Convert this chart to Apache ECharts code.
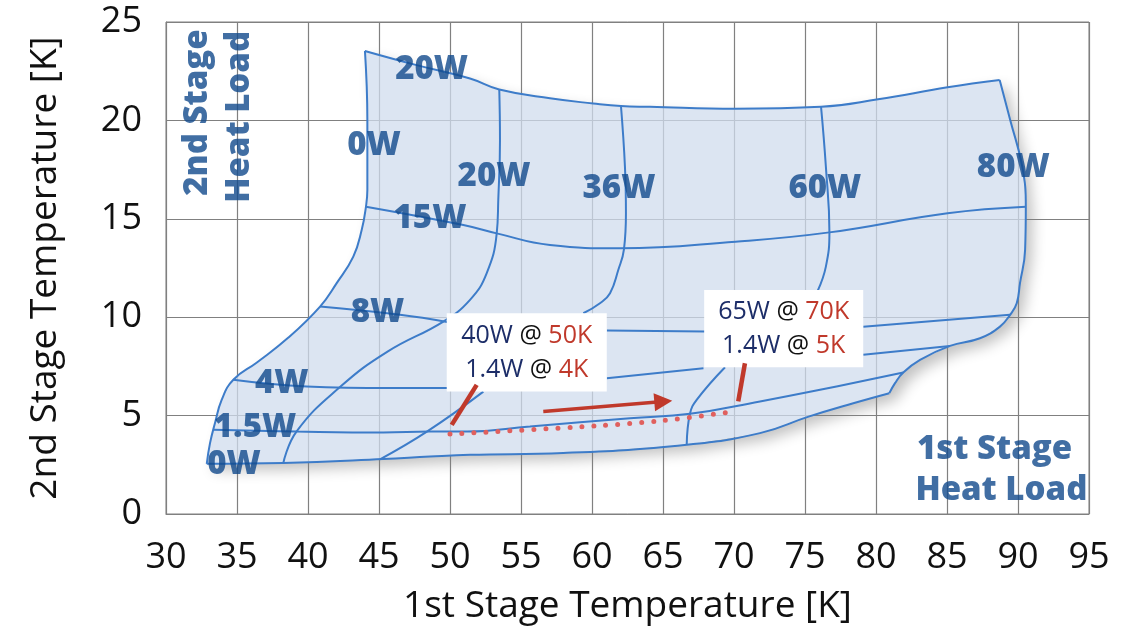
<!DOCTYPE html>
<html>
<head>
<meta charset="utf-8">
<script src="https://cdn.jsdelivr.net/npm/echarts@6/dist/echarts.min.js"></script>
<style>
    html, body {margin: 0; padding: 0; background: #fff;}
</style>
</head>
<body>
<div id="main" style="width:1145px;height:636px;"></div>
<script type="text/javascript">
    // axis ticks
    var xTicks = [30, 35, 40, 45, 50, 55, 60, 65, 70, 75, 80, 85, 90, 95];
    var yTicks = [0, 5, 10, 15, 20, 25];

    // lines of constant 1st stage heat load  [1st stage K, 2nd stage K]
    // null = part hidden behind an annotation box
    var stage1_0W = [[32.87, 2.55], [33.1, 3.6], [33.45, 4.62], [33.92, 5.8], [34.74, 6.82], [36.4, 7.7],
        [38.6, 8.95], [40.85, 10.54], [42.02, 11.73], [43.19, 13.08], [43.78, 14.43],
        [44.08, 15.61], [44.18, 16.46], [44.18, 20.02], [44.01, 23.53]];
    var stage1_20W = [[53.47, 21.57], [53.52, 19.0], [53.4, 15.96], [53.29, 14.26], [52.58, 12.23], [51.41, 10.88],
        [49.53, 9.78], [45.6, 8.25], [42.25, 6.45], [39.2, 4.2], [38.26, 2.59]];
    var stage1_36W = [[62.04, 20.73], [62.32, 17.65], [62.39, 15.28], [62.25, 13.45], [61.85, 12.4], [61.27, 11.22],
        [60.56, 10.71], [59.39, 10.2], null, [52.35, 6.22], [48.4, 4.2], [45.07, 2.78]];
    var stage1_60W = [[76.13, 20.69], [76.47, 17.65], [76.72, 14.31], [76.47, 12.57], [75.9, 11.35], null,
        [69.37, 7.46], [67.37, 5.8], [66.9, 5.09], [66.67, 3.52]];
    var stage1_80W = [[88.71, 22.05], [89.45, 20.02], [90.3, 17.65], [90.55, 15.61], [90.5, 13.42], [90.14, 11.73],
        [89.91, 10.71], [89.44, 10.12], [88.73, 9.52], [87.32, 8.93], [85.21, 8.54], [83.1, 7.83], [81.92, 7.19],
        [81.34, 6.65], [80.94, 6.14]];

    // lines of constant 2nd stage heat load
    var stage2_0W = [[32.87, 2.55], [38.26, 2.59], [45.3, 2.79], [48.59, 2.92], [51.41, 3.01], [57.98, 3.1],
        [66.67, 3.52], [71.83, 4.11], [75.25, 4.95], [78.4, 5.63], [80.94, 6.14]];
    var stage2_1p5W = [[33.33, 4.28], [39.2, 4.19], [45.3, 4.14], [48.59, 4.19], [51.2, 4.19], [55.63, 4.45],
        [62.68, 4.87], [66.9, 5.09], [71.83, 5.72], [76.06, 6.31], [81.92, 7.19]];
    var stage2_4W = [[34.74, 6.82], [39.91, 6.48], [45.77, 6.4], [49.9, 6.4], null, [61.04, 6.9], [67.85, 7.41], null,
        [79.1, 8.09], [85.21, 8.54]];
    var stage2_8W = [[40.85, 10.54], [46.48, 10.12], [49.8, 9.76], null, [61.04, 9.32], [67.95, 9.27], null,
        [79.1, 9.52], [89.44, 10.12]];
    var stage2_15W = [[44.08, 15.61], [50.94, 14.68], [53.29, 14.26], [57.04, 13.67], [62.0, 13.5], [70.11, 13.84],
        [76.72, 14.31], [85.04, 15.28], [90.55, 15.61]];
    var stage2_20W = [[44.01, 23.53], [47.65, 22.81], [51.41, 22.13], [53.47, 21.57], [57.04, 21.12], [60.09, 20.86],
        [62.04, 20.73], [64.08, 20.69], [70.11, 20.59], [76.13, 20.69], [80.15, 21.07], [85.04, 21.68], [88.71, 22.05]];

    // operating path and annotations
    var pathDots = [[50.0, 4.06], [60.33, 4.48], [65.02, 4.75], [70.07, 5.21]];
    var arrowFrom = [56.57, 5.21], arrowTo = [65.02, 5.72];
    var pointer1 = [[50.12, 4.53], [51.88, 6.56]];
    var pointer2 = [[70.3, 5.72], [70.77, 7.66]];
    var box1 = [49.77, 10.2, 61.04, 6.22], box1Text = ['40W', '50K', '1.4W', '4K'];
    var box2 = [67.9, 11.38, 79.1, 7.46], box2Text = ['65W', '70K', '1.4W', '5K'];

    // heat load labels [text, x, y, rotate]
    var labelSpots = [
        ['20W', 48.71, 22.6, 0], ['0W', 44.65, 18.74, 0], ['20W', 53.1, 17.17, 0], ['36W', 61.9, 16.56, 0],
        ['60W', 76.4, 16.51, 0], ['80W', 89.67, 17.6, 0], ['15W', 48.59, 14.99, 0], ['8W', 44.89, 10.24, 0],
        ['4W', 38.15, 6.61, 0], ['1.5W', 36.27, 4.38, 0], ['0W', 34.79, 2.51, 0],
        ['2nd Stage', 32.22, 20.4, 90], ['Heat Load', 35.16, 20.18, 90],
        ['1st Stage', 88.35, 3.26, 0], ['Heat Load', 88.83, 1.19, 0]
    ];

    var outline = stage1_0W.concat(stage2_20W.slice(1), stage1_80W.slice(1), stage2_0W.slice(0, -1).reverse());

    var lineBlue = '#3d7cc9';
    var red = '#c0392b';
    var font = 'Open Sans';

    // split a line at null entries so hidden parts are not drawn
    function pieces(d) {
        var out = [[]];
        d.forEach(function (p) {
            if (p === null) out.push([]);
            else out[out.length - 1].push(p);
        });
        return out;
    }

    function curve(d) {
        return {
            type: 'line', data: d, smooth: 0.45, showSymbol: false, symbol: 'none', z: 3,
            lineStyle: {color: lineBlue, width: 2}
        };
    }

    function boxItem(params, api, b, t) {
        var p0 = api.coord([b[0], b[1]]), p1 = api.coord([b[2], b[3]]);
        var st = function (c) { return {fill: c, fontSize: 25, fontFamily: font, lineHeight: 34}; };
        return {
            type: 'group',
            children: [{
                type: 'rect',
                shape: {x: p0[0], y: p0[1], width: p1[0] - p0[0], height: p1[1] - p0[1]},
                style: {fill: '#fff'}
            }, {
                type: 'text',
                x: (p0[0] + p1[0]) / 2, y: (p0[1] + p1[1]) / 2,
                style: {
                    text: '{n|' + t[0] + '} {a|@} {r|' + t[1] + '}\n{n|' + t[2] + '} {a|@} {r|' + t[3] + '}',
                    align: 'center', verticalAlign: 'middle',
                    font: '25px "' + font + '"',
                    rich: {n: st('#1c2d68'), a: st('#111'), r: st(red)}
                }
            }]
        };
    }

    var myChart = echarts.init(document.getElementById('main'));

    var series = [{
        // white base with drop shadow, sits under the grid lines
        type: 'custom', z: -1, data: [[60, 10]], silent: true,
        renderItem: function (params, api) {
            return {
                type: 'polygon',
                shape: {points: outline.map(function (p) { return api.coord(p); })},
                style: {fill: '#fff', shadowBlur: 14, shadowOffsetX: 7, shadowOffsetY: 7, shadowColor: 'rgba(0,0,0,0.24)'}
            };
        }
    }, {
        type: 'custom', z: 2, data: [[60, 10]], silent: true,
        renderItem: function (params, api) {
            return {
                type: 'polygon',
                shape: {points: outline.map(function (p) { return api.coord(p); })},
                style: {fill: 'rgba(208,220,238,0.75)'}
            };
        }
    }];

    [stage1_0W, stage1_20W, stage1_36W, stage1_60W, stage1_80W,
        stage2_0W, stage2_1p5W, stage2_4W, stage2_8W, stage2_15W, stage2_20W].forEach(function (d) {
        pieces(d).forEach(function (seg) { series.push(curve(seg)); });
    });

    series.push({
        type: 'line', data: pathDots, smooth: 0.3, symbol: 'none', z: 4,
        lineStyle: {color: '#e0605e', width: 5, type: [0, 12], cap: 'round'}
    });

    series.push({
        type: 'custom', z: 5, data: [[60, 10]], silent: true,
        renderItem: function (params, api) {
            return {
                type: 'group',
                children: [boxItem(params, api, box1, box1Text), boxItem(params, api, box2, box2Text)]
            };
        }
    });

    [pointer1, pointer2].forEach(function (d) {
        series.push({type: 'line', data: d, symbol: 'none', z: 6, lineStyle: {color: red, width: 4.5}});
    });

    series.push({
        type: 'line', data: [], z: 6,
        markLine: {
            silent: true, symbol: ['none', 'triangle'], symbolSize: [18, 18], label: {show: false},
            lineStyle: {color: red, width: 3.5, type: 'solid'},
            data: [[{coord: arrowFrom}, {coord: arrowTo}]]
        }
    });

    series.push({
        type: 'scatter', z: 7, symbolSize: 2, silent: true,
        itemStyle: {color: 'rgba(0,0,0,0)'},
        data: labelSpots.map(function (s) {
            return {value: [s[1], s[2]], name: s[0], label: {rotate: s[3]}};
        }),
        label: {
            show: true, position: 'inside', formatter: '{b}',
            color: '#124a8c', fontFamily: font, fontWeight: 800, fontSize: 33
        }
    });

    myChart.setOption({
        animation: false,
        grid: {left: 166, right: 56, top: 22, bottom: 122, show: true, borderColor: '#808080', borderWidth: 1},
        xAxis: {
            type: 'value', min: 30, max: 95, interval: 5,
            name: '1st Stage Temperature [K]', nameLocation: 'middle', nameGap: 74,
            nameTextStyle: {fontFamily: font, fontSize: 37, color: '#111'},
            axisLine: {show: true, lineStyle: {color: '#808080'}},
            axisTick: {show: false},
            axisLabel: {fontFamily: font, fontSize: 36, color: '#111', margin: 26,
                formatter: function (v) { return xTicks.indexOf(v) >= 0 ? String(v) : ''; }},
            splitLine: {lineStyle: {color: '#808080', width: 1.2}}
        },
        yAxis: {
            type: 'value', min: 0, max: 25, interval: 5,
            name: '2nd Stage Temperature [K]', nameLocation: 'middle', nameGap: 102,
            nameTextStyle: {fontFamily: font, fontSize: 37, color: '#111'},
            axisLine: {show: true, lineStyle: {color: '#808080'}},
            axisTick: {show: false},
            axisLabel: {fontFamily: font, fontSize: 36, color: '#111', margin: 24,
                formatter: function (v) { return yTicks.indexOf(v) >= 0 ? String(v) : ''; }},
            splitLine: {lineStyle: {color: '#808080', width: 1.2}}
        },
        series: series
    });
</script>
</body>
</html>
